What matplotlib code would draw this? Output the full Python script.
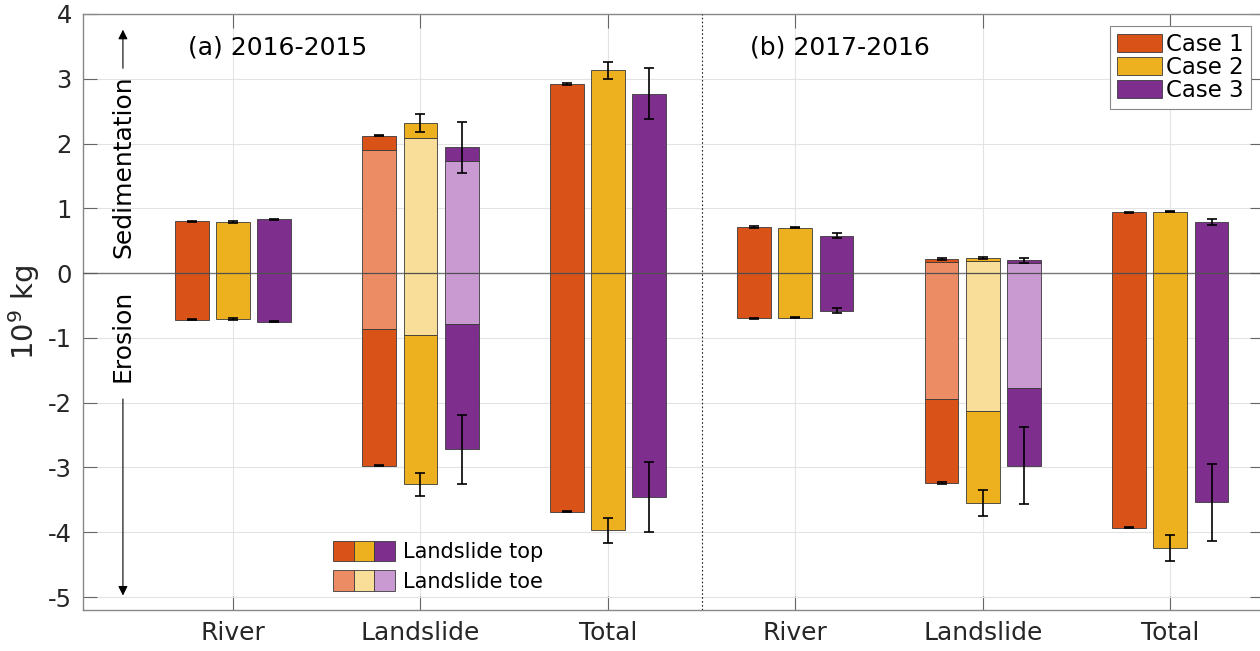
import matplotlib
matplotlib.use("Agg")
import matplotlib.pyplot as plt
from matplotlib.patches import Patch
from matplotlib.legend_handler import HandlerTuple
import numpy as np

# categories and cases
groups = ["River", "Landslide", "Total", "River", "Landslide", "Total"]
cases = ["Case 1", "Case 2", "Case 3"]
dark = ["#D95319", "#EDB120", "#7E2F8E"]
light = ["#EC8C65", "#F8DE98", "#C99AD2"]

# (a) 2016-2015, values in 10^9 kg
river_sed_a = [0.80, 0.79, 0.83]
river_ero_a = [-0.72, -0.71, -0.75]
slide_sed_a = [2.12, 2.32, 1.94]
slide_ero_a = [-2.97, -3.26, -2.72]
toe_sed_a = [1.90, 2.09, 1.73]
toe_ero_a = [-0.87, -0.95, -0.79]
total_sed_a = [2.92, 3.13, 2.77]
total_ero_a = [-3.68, -3.97, -3.45]

# (b) 2017-2016
river_sed_b = [0.71, 0.70, 0.58]
river_ero_b = [-0.70, -0.69, -0.58]
slide_sed_b = [0.22, 0.24, 0.20]
slide_ero_b = [-3.24, -3.55, -2.97]
toe_sed_b = [0.165, 0.18, 0.15]
toe_ero_b = [-1.95, -2.13, -1.78]
total_sed_b = [0.94, 0.95, 0.79]
total_ero_b = [-3.93, -4.24, -3.54]

# error bar half-widths
river_err_sed_a = [0.01, 0.01, 0.01]
river_err_ero_a = [0.01, 0.01, 0.01]
slide_err_sed_a = [0.01, 0.14, 0.39]
slide_err_ero_a = [0.01, 0.18, 0.53]
total_err_sed_a = [0.01, 0.13, 0.39]
total_err_ero_a = [0.01, 0.19, 0.54]
river_err_sed_b = [0.01, 0.01, 0.045]
river_err_ero_b = [0.01, 0.01, 0.035]
slide_err_sed_b = [0.01, 0.015, 0.04]
slide_err_ero_b = [0.01, 0.20, 0.59]
total_err_sed_b = [0.01, 0.01, 0.05]
total_err_ero_b = [0.01, 0.20, 0.59]

rows = [
    (river_sed_a, river_ero_a, None, None, river_err_sed_a, river_err_ero_a),
    (slide_sed_a, slide_ero_a, toe_sed_a, toe_ero_a, slide_err_sed_a, slide_err_ero_a),
    (total_sed_a, total_ero_a, None, None, total_err_sed_a, total_err_ero_a),
    (river_sed_b, river_ero_b, None, None, river_err_sed_b, river_err_ero_b),
    (slide_sed_b, slide_ero_b, toe_sed_b, toe_ero_b, slide_err_sed_b, slide_err_ero_b),
    (total_sed_b, total_ero_b, None, None, total_err_sed_b, total_err_ero_b),
]

plt.rcParams["font.family"] = "DejaVu Sans"
fig = plt.figure(figsize=(12.6, 6.51), dpi=100)
ax = fig.add_axes([83 / 1260, 41 / 651, 1181 / 1260, 596 / 651])

xpos = np.arange(1, len(groups) + 1)
offsets = [-0.22, 0.0, 0.22]
width = 0.18
edge = dict(edgecolor="#3a3a3a", linewidth=0.6, zorder=2)

for x0, (sed, ero, tsed, tero, esed, eero) in zip(xpos, rows):
    for j in range(3):
        x = x0 + offsets[j]
        if tsed is None:
            ax.bar(x, sed[j], width, color=dark[j], **edge)
            ax.bar(x, ero[j], width, color=dark[j], **edge)
        else:
            ax.bar(x, tsed[j], width, color=light[j], **edge)
            ax.bar(x, sed[j] - tsed[j], width, bottom=tsed[j], color=dark[j], **edge)
            ax.bar(x, tero[j], width, color=light[j], **edge)
            ax.bar(x, ero[j] - tero[j], width, bottom=tero[j], color=dark[j], **edge)
        ax.errorbar([x, x], [sed[j], ero[j]], yerr=[esed[j], eero[j]], fmt="none",
                    ecolor="black", elinewidth=1.2, capsize=3.6, capthick=1.2, zorder=4)

ax.axhline(0, color="#555555", lw=1.0, alpha=0.75, zorder=3)
ax.axvline(3.5, color="#222222", lw=0.8, ls=(0, (1.5, 2)), zorder=3)

ax.set_xlim(0.2, 6.5)
ax.set_ylim(-5.2, 4)
ax.set_xticks(xpos)
ax.set_xticklabels(groups, fontsize=18, color="#262626")
yt = np.arange(-5, 5)
ax.set_yticks(yt)
ax.set_yticklabels([str(v) for v in yt], fontsize=17.5, color="#262626")
ax.tick_params(direction="in", length=10, width=0.8, color="#666666",
               top=True, right=True, pad=8)
ax.grid(True, color="#e3e3e3", lw=0.8, zorder=0)
ax.set_axisbelow(True)
for s in ax.spines.values():
    s.set_color("#888888")
    s.set_linewidth(1.0)
ax.set_ylabel("$10^9$ kg", fontsize=21, color="#262626", labelpad=4)

ax.text(0.76, 3.49, "(a) 2016-2015", fontsize=18, va="center", ha="left")
ax.text(3.757, 3.49, "(b) 2017-2016", fontsize=18, va="center", ha="left")

# sedimentation / erosion labels with arrows
ax.text(0.413, 1.65, "Sedimentation", rotation=90, fontsize=18, va="center", ha="center")
ax.annotate("", xy=(0.413, 3.8), xytext=(0.413, 3.12),
            arrowprops=dict(arrowstyle="-|>", color="black", lw=0.8, mutation_scale=14))
ax.text(0.413, -0.97, "Erosion", rotation=90, fontsize=18, va="center", ha="center")
ax.annotate("", xy=(0.413, -5.02), xytext=(0.413, -1.9),
            arrowprops=dict(arrowstyle="-|>", color="black", lw=0.8, mutation_scale=14))

# case legend
case_handles = [Patch(facecolor=dark[j], edgecolor="#3a3a3a", lw=0.6) for j in range(3)]
leg1 = ax.legend(case_handles, cases, loc="upper right", bbox_to_anchor=(0.9887, 0.980),
                 borderaxespad=0, fontsize=16.5, handlelength=1.96, handleheight=0.85,
                 handletextpad=0.17, labelspacing=0.0, borderpad=0.3, fancybox=False,
                 framealpha=1, edgecolor="#888888")
leg1.get_frame().set_linewidth(0.8)
ax.add_artist(leg1)

# landslide top / toe legend
top_h = tuple(Patch(facecolor=c, edgecolor="#3a3a3a", lw=0.6) for c in dark)
toe_h = tuple(Patch(facecolor=c, edgecolor="#3a3a3a", lw=0.6) for c in light)
ax.legend([top_h, toe_h], ["Landslide top", "Landslide toe"], loc="upper left",
          bbox_to_anchor=(0.2117, 0.1163), borderaxespad=0, borderpad=0,
          frameon=False, fontsize=15, handlelength=2.97, handleheight=1.13,
          handletextpad=0.4, labelspacing=0.4,
          handler_map={tuple: HandlerTuple(ndivide=None, pad=0)})

fig.savefig("out.png", dpi=100)
